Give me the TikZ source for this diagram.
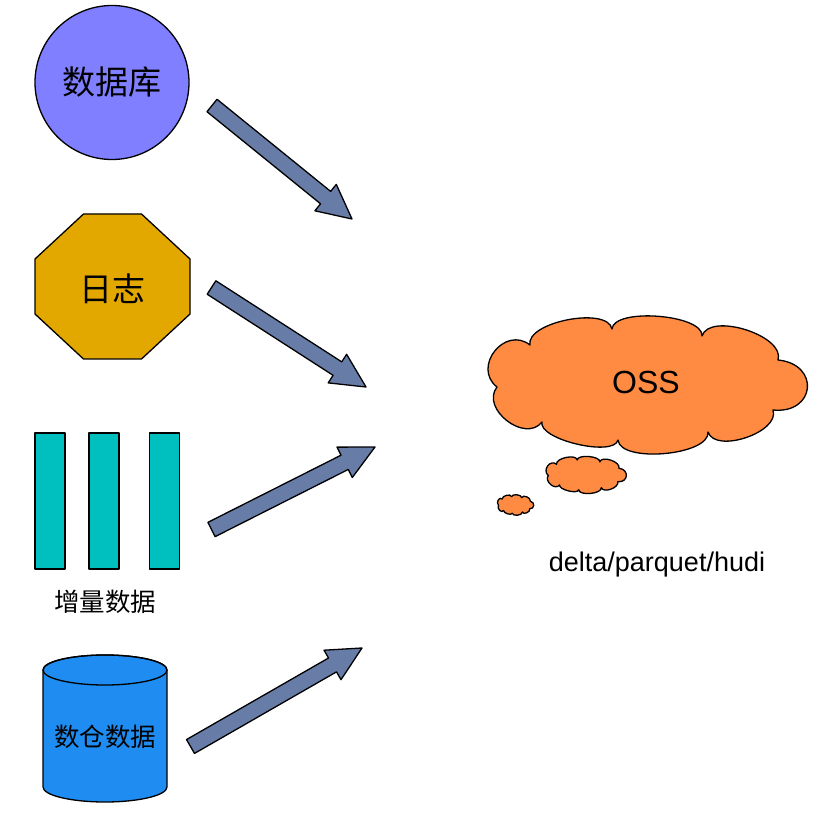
\documentclass[tikz,border=0pt]{standalone}
\usepackage{fontspec}
\setmainfont{Liberation Sans}
\newfontfamily\cjk{Noto Sans CJK SC}
\usetikzlibrary{calc}

\definecolor{dbfill}{RGB}{127,127,255}
\definecolor{logfill}{RGB}{227,168,0}
\definecolor{incfill}{RGB}{0,191,191}
\definecolor{dwfill}{RGB}{30,140,240}
\definecolor{cloudfill}{RGB}{255,139,66}
\definecolor{arrfill}{RGB}{103,124,167}

\tikzset{
  outline/.style={draw=black, line width=1.3pt, line join=round},
  bigcjk/.style={font=\cjk\fontsize{33}{33}\selectfont, inner sep=0pt},
  smallcjk/.style={font=\cjk\fontsize{25.5}{25.5}\selectfont, inner sep=0pt},
  bar/.style={outline, fill=incfill, minimum width=30pt, minimum height=136pt, inner sep=0pt},
  blockarr/.style={outline, fill=arrfill},
  puff/.style={outline, fill=cloudfill},
}

\newcommand{\blockarrow}[2]{%
  \path ($(#2)!34pt!(#1)$) coordinate (#2-base);
  \filldraw[blockarr] ($(#1)!8pt!90:(#2)$) -- ($(#2-base)!8pt!-90:(#1)$)
    -- ($(#2-base)!17pt!-90:(#1)$) -- (#2) -- ($(#2-base)!17pt!90:(#1)$)
    -- ($(#2-base)!8pt!90:(#1)$) -- ($(#1)!8pt!-90:(#2)$) -- cycle;}

% cloud outline around the local origin (drawn inside a shifted/scaled scope)
\newcommand{\cloudshape}[1]{%
  \coordinate (#1A) at (-117,-40);
  \coordinate (#1B) at (-35,-56);
  \coordinate (#1E) at (55,-49);
  \coordinate (#1F) at (131,-25);
  \coordinate (#1G) at (126,25);
  \coordinate (#1H) at (61,47);
  \coordinate (#1I) at (-29,55);
  \coordinate (#1D) at (-105,37);
  \coordinate (#1C) at (-150,2);
  \draw[puff] (#1A)
    .. controls ($(#1A)!0.28!90:(#1B)$) and ($(#1B)!0.28!-90:(#1A)$) .. (#1B)
    .. controls ($(#1B)!0.24!90:(#1E)$) and ($(#1E)!0.24!-90:(#1B)$) .. (#1E)
    .. controls ($(#1E)!0.32!90:(#1F)$) and ($(#1F)!0.32!-90:(#1E)$) .. (#1F)
    .. controls ($(#1F)!0.85!90:(#1G)$) and ($(#1G)!0.85!-90:(#1F)$) .. (#1G)
    .. controls ($(#1G)!0.34!90:(#1H)$) and ($(#1H)!0.34!-90:(#1G)$) .. (#1H)
    .. controls ($(#1H)!0.26!90:(#1I)$) and ($(#1I)!0.26!-90:(#1H)$) .. (#1I)
    .. controls ($(#1I)!0.23!90:(#1D)$) and ($(#1D)!0.23!-90:(#1I)$) .. (#1D)
    .. controls ($(#1D)!0.48!90:(#1C)$) and ($(#1C)!0.48!-90:(#1D)$) .. (#1C)
    .. controls ($(#1C)!0.6!90:(#1A)$) and ($(#1A)!0.6!-90:(#1C)$) .. (#1A) -- cycle;}

\begin{document}
\begin{tikzpicture}[x=1pt,y=-1pt]
\useasboundingbox (0,0) rectangle (823,813);

% database circle
\node[circle, outline, fill=dbfill, minimum size=154pt, inner sep=0pt] (db) at (112,82.5) {};
\node[bigcjk] (dbtext) at (112,82) {数据库};

% log octagon
\draw[outline, fill=logfill] (83.5,214) -- (141.5,214) -- (190,259) -- (190,314)
  -- (141.5,359) -- (83.5,359) -- (35,314) -- (35,259) -- cycle;
\node[bigcjk] (log) at (112.5,288.5) {日志};

% incremental data bars
\node[bar] (inc1) at (50,501) {};
\node[bar] (inc2) at (104,501) {};
\node[bar] (inc3) at (164.5,501) {};
\node[smallcjk] (inclabel) at (105,601.5) {增量数据};

% data warehouse cylinder
\draw[outline, fill=dwfill] (43,670) -- (43,787) arc (180:360:62pt and 15pt) -- (167,670)
  arc (0:180:62pt and 15pt) -- cycle;
\draw[outline] (105,670) ellipse [x radius=62pt, y radius=15pt];
\node[smallcjk] (dw) at (105,736.5) {数仓数据};

% clouds
\begin{scope}[shift={(647,385)}]
  \cloudshape{m}
\end{scope}
\node[font=\fontsize{32}{32}\selectfont, inner sep=0pt] (oss) at (646,382) {OSS};
\begin{scope}[shift={(586,475)}, xscale=0.2515, yscale=0.269]
  \cloudshape{s}
\end{scope}
\begin{scope}[shift={(515.5,505)}, xscale=0.1135, yscale=0.149]
  \cloudshape{t}
\end{scope}
\node[font=\fontsize{27}{27}\selectfont, inner sep=0pt, anchor=base] (fmt) at (657,571) {delta/parquet/hudi};

% arrows
\coordinate (a1t) at (212,105.5);   \coordinate (a1h) at (352,219);
\coordinate (a2t) at (211.5,287.5); \coordinate (a2h) at (366,387);
\coordinate (a3t) at (211.5,529.5); \coordinate (a3h) at (375,447);
\coordinate (a4t) at (190.5,746.5); \coordinate (a4h) at (362,648);
\blockarrow{a1t}{a1h}
\blockarrow{a2t}{a2h}
\blockarrow{a3t}{a3h}
\blockarrow{a4t}{a4h}
\end{tikzpicture}
\end{document}
